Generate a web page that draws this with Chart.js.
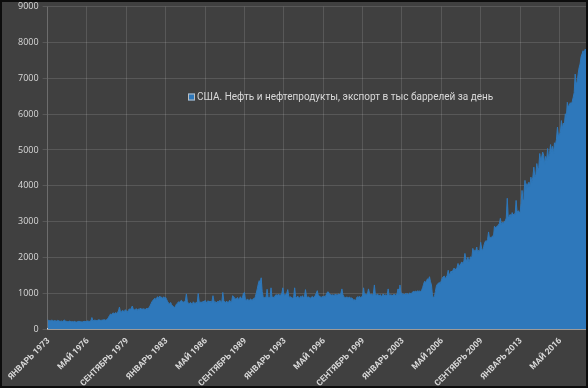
<!DOCTYPE html>
<html>
<head>
<meta charset="utf-8">
<script src="https://cdn.jsdelivr.net/npm/chart.js@4.4.1/dist/chart.umd.min.js"></script>
<style>
  html, body { margin: 0; padding: 0; background: #0d0d0d; }
  #wrap { width: 588px; height: 388px; box-sizing: border-box; border: 2px solid #0d0d0d; background: #404040; }
  canvas { display: block; }
</style>
</head>
<body>
<div id="wrap"><canvas id="exportchart" width="584" height="384"></canvas></div>
<script>
var months = ["ЯНВАРЬ","ФЕВРАЛЬ","МАРТ","АПРЕЛЬ","МАЙ","ИЮНЬ","ИЮЛЬ","АВГУСТ","СЕНТЯБРЬ","ОКТЯБРЬ","НОЯБРЬ","ДЕКАБРЬ"];
var startYear = 1973;
var seriesName = "США. Нефть и нефтепродукты, экспорт в тыс баррелей за день";
var yTicks = [0, 1000, 2000, 3000, 4000, 5000, 6000, 7000, 8000, 9000];

// monthly values, one row per year (1973 .. Aug 2018)
var exports = [
  250, 240, 235, 230, 245, 240, 225, 235, 230, 220, 240, 235,
  220, 215, 225, 210, 230, 250, 225, 215, 210, 205, 220, 215,
  200, 210, 195, 215, 205, 190, 200, 210, 215, 205, 200, 195,
  200, 215, 210, 205, 220, 225, 210, 215, 230, 320, 240, 235,
  250, 240, 235, 245, 260, 250, 240, 245, 250, 255, 260, 245,
  260, 290, 330, 380, 420, 400, 440, 450, 420, 460, 430, 470,
  500, 610, 480, 470, 520, 500, 490, 540, 510, 470, 520, 560,
  550, 580, 640, 560, 530, 540, 570, 510, 560, 540, 580, 560,
  560, 550, 570, 540, 560, 580, 550, 600, 640, 700, 760, 800,
  830, 860, 820, 880, 900, 850, 920, 870, 890, 840, 900, 860,
  880, 820, 760, 720, 700, 740, 680, 650, 620, 600, 640, 700,
  720, 760, 740, 780, 800, 760, 750, 770, 790, 980, 760, 720,
  700, 740, 720, 680, 760, 730, 700, 750, 720, 990, 760, 740,
  760, 720, 780, 740, 800, 760, 720, 790, 750, 780, 740, 770,
  930, 780, 740, 760, 720, 780, 750, 800, 770, 740, 1020, 790,
  760, 740, 780, 720, 760, 800, 750, 770, 930, 900, 860, 840,
  850, 880, 820, 860, 900, 840, 880, 1000, 1020, 820, 800, 840,
  810, 780, 840, 820, 800, 850, 830, 900, 1000, 1120, 1250, 1350,
  1300, 1430, 1050, 900, 870, 880, 890, 1110, 900, 870, 880, 1150,
  880, 900, 870, 920, 960, 940, 950, 970, 930, 960, 1000, 1150,
  980, 940, 960, 1000, 1100, 920, 880, 900, 870, 860, 890, 1150,
  900, 870, 920, 880, 860, 910, 890, 930, 870, 900, 1100, 920,
  880, 900, 870, 860, 890, 910, 880, 900, 940, 1000, 1070, 940,
  920, 900, 880, 910, 890, 920, 900, 950, 1020, 1040, 1000, 960,
  950, 940, 960, 930, 970, 950, 940, 960, 980, 950, 1000, 1120,
  960, 900, 880, 870, 900, 860, 880, 890, 850, 870, 840, 800,
  820, 780, 880, 900, 890, 910, 880, 900, 920, 1150, 940, 980,
  960, 980, 1120, 1000, 960, 980, 940, 990, 1230, 960, 940, 980,
  950, 920, 960, 900, 940, 980, 920, 960, 930, 950, 1120, 940,
  940, 960, 930, 950, 970, 950, 940, 980, 1120, 960, 1230, 1000,
  1000, 960, 980, 950, 1000, 970, 990, 960, 1010, 980, 1000, 1040,
  1050, 1040, 1060, 1030, 1070, 1050, 1060, 1050, 1080, 1150, 1250, 1330,
  1300, 1350, 1400, 1380, 1460, 1320, 1230, 950, 870, 900, 1050, 1200,
  1250, 1280, 1300, 1270, 1350, 1420, 1460, 1480, 1400, 1450, 1500, 1640,
  1500, 1560, 1620, 1580, 1650, 1700, 1640, 1680, 1720, 1830, 1700, 1800,
  1850, 1870, 1820, 1900, 2110, 1950, 1900, 2000, 1880, 1950, 2020, 1980,
  2250, 2150, 2200, 2180, 2290, 2120, 2200, 2150, 2420, 2250, 2180, 2300,
  2400, 2460, 2450, 2500, 2710, 2520, 2560, 2550, 2600, 2580, 2870, 2820,
  2850, 2880, 2900, 2950, 3090, 2920, 2980, 2950, 3000, 3020, 3100, 3650,
  3100, 3150, 3200, 3120, 3250, 3180, 3220, 3200, 3590, 3250, 3300, 3280,
  3230, 3500, 3870, 3600, 3800, 4150, 3900, 4060, 3950, 4100, 3980, 4240,
  4100, 4240, 4520, 4250, 4300, 4620, 4450, 4500, 4900, 4700, 4800, 4940,
  4850, 4600, 4820, 4700, 5040, 4750, 4900, 5150, 4950, 5100, 4900, 5200,
  5150, 5300, 5640, 5380, 5420, 5500, 5820, 5600, 5750, 5700, 6010, 5900,
  6330, 6200, 6250, 6320, 6280, 6350, 6470, 6600, 7120, 6840, 6900, 7120,
  7300, 7400, 7600, 7680, 7770, 7700, 7810, 7800
];

var labels = [];
for (var i = 0; i < exports.length; i++) {
  labels.push(months[i % 12] + " " + (startYear + Math.floor(i / 12)));
}

// legend placed inside the plot, like the original
var floatLegend = {
  id: "floatLegend",
  afterDraw: function(chart, args, opts) {
    var ctx = chart.ctx;
    var ds = chart.data.datasets[0];
    ctx.save();
    ctx.fillStyle = ds.backgroundColor;
    ctx.strokeStyle = "#bfbfbf";
    ctx.lineWidth = 1;
    ctx.fillRect(opts.x, opts.y - 3.5, 7, 7);
    ctx.strokeRect(opts.x + 0.5, opts.y - 3, 6, 6);
    ctx.font = opts.font;
    ctx.fillStyle = opts.color;
    ctx.textBaseline = "middle";
    ctx.fillText(ds.label, opts.x + 9, opts.y);
    ctx.restore();
  }
};

var gridColor = "rgba(255,255,255,0.13)";

var chart = new Chart(document.getElementById("exportchart"), {
  type: "line",
  data: {
    labels: labels,
    datasets: [{
      label: seriesName,
      data: exports,
      fill: "origin",
      backgroundColor: "#2e78bb",
      borderColor: "#2e78bb",
      borderWidth: 1,
      pointRadius: 0,
      tension: 0
    }]
  },
  options: {
    responsive: false,
    animation: false,
    layout: { padding: { top: 4.7, right: 0, left: 0, bottom: 0 } },
    plugins: {
      legend: { display: false },
      tooltip: { enabled: false },
      floatLegend: { x: 186, y: 95, font: "10px Roboto", color: "#d9d9d9" }
    },
    scales: {
      x: {
        type: "category",
        offset: false,
        grid: { color: gridColor, drawTicks: false, offset: false },
        border: { color: "#e3dcd6", width: 1.5 },
        afterFit: function(s) { s.height = 57; },
        ticks: {
          autoSkip: false,
          minRotation: 45,
          maxRotation: 45,
          padding: 7,
          labelOffset: 1,
          color: "#d9d9d9",
          font: { family: "Roboto", size: 8.5, weight: "bold" },
          callback: function(v, idx) { return idx % 40 === 0 ? this.getLabelForValue(v) : null; }
        }
      },
      y: {
        min: 0,
        max: 9000,
        afterFit: function(s) { s.width = 40.7; s.paddingTop = 0; },
        afterBuildTicks: function(s) { s.ticks = yTicks.map(function(t) { return { value: t }; }); },
        grid: { color: gridColor, tickLength: 5 },
        border: { color: gridColor },
        ticks: {
          padding: 4,
          color: "#d9d9d9",
          font: { family: "'Open Sans'", size: 9 },
          callback: function(v) { return String(v); }
        }
      }
    }
  },
  plugins: [floatLegend]
});
</script>
</body>
</html>
